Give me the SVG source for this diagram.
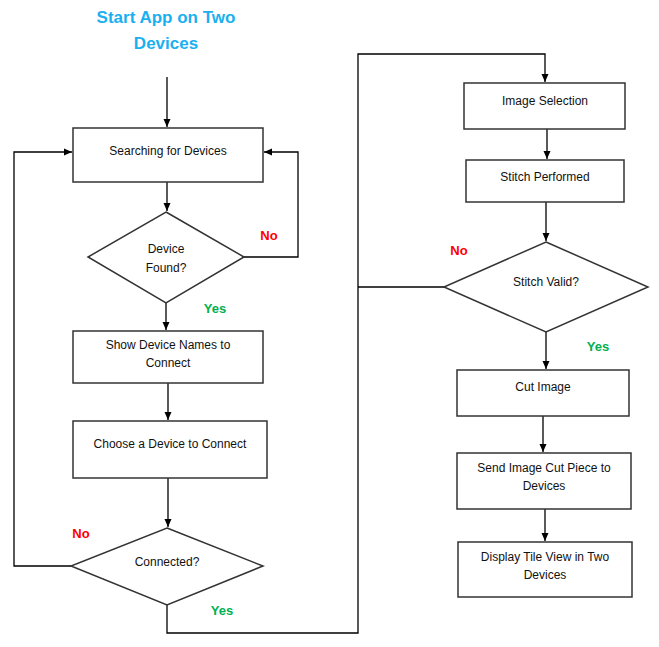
<svg xmlns="http://www.w3.org/2000/svg" width="659" height="647" viewBox="0 0 659 647">
<defs>
<marker id="ah" markerWidth="8" markerHeight="8" refX="8" refY="4" orient="auto" markerUnits="userSpaceOnUse">
<path d="M0,0.5 L8,4 L0,7.5 Z" fill="#000"/>
</marker>
<style>
.box{fill:#fff;stroke:#333;stroke-width:1.5}
.t{font-family:"Liberation Sans",Arial,sans-serif;font-size:12px;fill:#111;text-anchor:middle}
.c{fill:none;stroke:#000;stroke-width:1.3}
.a{marker-end:url(#ah)}
.no{font-family:"Liberation Sans",Arial,sans-serif;font-size:13px;font-weight:bold;fill:#ff0000;text-anchor:middle}
.yes{font-family:"Liberation Sans",Arial,sans-serif;font-size:13px;font-weight:bold;fill:#00b050;text-anchor:middle}
.title{font-family:"Liberation Sans",Arial,sans-serif;font-size:17px;font-weight:bold;fill:#1ab0f0;text-anchor:middle}
</style>
</defs>
<rect width="659" height="647" fill="#fff"/>
<g id="start">
<text class="title" x="166" y="23">Start App on Two</text>
<text class="title" x="166" y="49">Devices</text>
</g>
<g id="connectors">
<path class="c a" d="M167,77 V127"/>
<path class="c a" d="M167,182 V211"/>
<path class="c a" d="M244,257 H298 V152 H264"/>
<path class="c a" d="M166,303 V330"/>
<path class="c a" d="M168,383 V420"/>
<path class="c a" d="M168,478 V527"/>
<path class="c a" d="M71,566 H14 V152 H72"/>
<path class="c a" d="M167,605 V633 H358 V54 H545 V82"/>
<path class="c a" d="M547,129 V159"/>
<path class="c a" d="M546,202 V241"/>
<path class="c" d="M444,287 H358"/>
<path class="c a" d="M546,332 V369"/>
<path class="c a" d="M543,416 V452"/>
<path class="c a" d="M545,509 V541"/>
</g>
<g id="searching">
<rect class="box" x="73" y="128" width="190" height="54"/>
<text class="t" x="168" y="155">Searching for Devices</text>
</g>
<g id="found">
<path class="box" d="M166,212 L244,257 L166,303 L88,257 Z"/>
<text class="t" x="166" y="253">Device</text>
<text class="t" x="166" y="272">Found?</text>
</g>
<g id="show">
<rect class="box" x="73" y="331" width="190" height="52"/>
<text class="t" x="168" y="349">Show Device Names to</text>
<text class="t" x="168" y="367">Connect</text>
</g>
<g id="choose">
<rect class="box" x="73" y="421" width="194" height="57"/>
<text class="t" x="170" y="448">Choose a Device to Connect</text>
</g>
<g id="connected">
<path class="box" d="M167,528 L263,566 L167,605 L71,566 Z"/>
<text class="t" x="167" y="566">Connected?</text>
</g>
<g id="imgsel">
<rect class="box" x="464" y="83" width="161" height="46"/>
<text class="t" x="545" y="105">Image Selection</text>
</g>
<g id="stitch">
<rect class="box" x="466" y="160" width="158" height="42"/>
<text class="t" x="545" y="181">Stitch Performed</text>
</g>
<g id="valid">
<path class="box" d="M546,242 L648,287 L546,332 L444,287 Z"/>
<text class="t" x="546" y="286">Stitch Valid?</text>
</g>
<g id="cut">
<rect class="box" x="457" y="370" width="172" height="46"/>
<text class="t" x="543" y="391">Cut Image</text>
</g>
<g id="send">
<rect class="box" x="457" y="453" width="174" height="56"/>
<text class="t" x="544" y="472">Send Image Cut Piece to</text>
<text class="t" x="544" y="490">Devices</text>
</g>
<g id="display">
<rect class="box" x="458" y="542" width="174" height="55"/>
<text class="t" x="545" y="561">Display Tile View in Two</text>
<text class="t" x="545" y="579">Devices</text>
</g>
<g id="labels">
<text class="no" x="269" y="240">No</text>
<text class="yes" x="215" y="313">Yes</text>
<text class="no" x="81" y="538">No</text>
<text class="yes" x="222" y="615">Yes</text>
<text class="no" x="459" y="255">No</text>
<text class="yes" x="598" y="351">Yes</text>
</g>
</svg>
